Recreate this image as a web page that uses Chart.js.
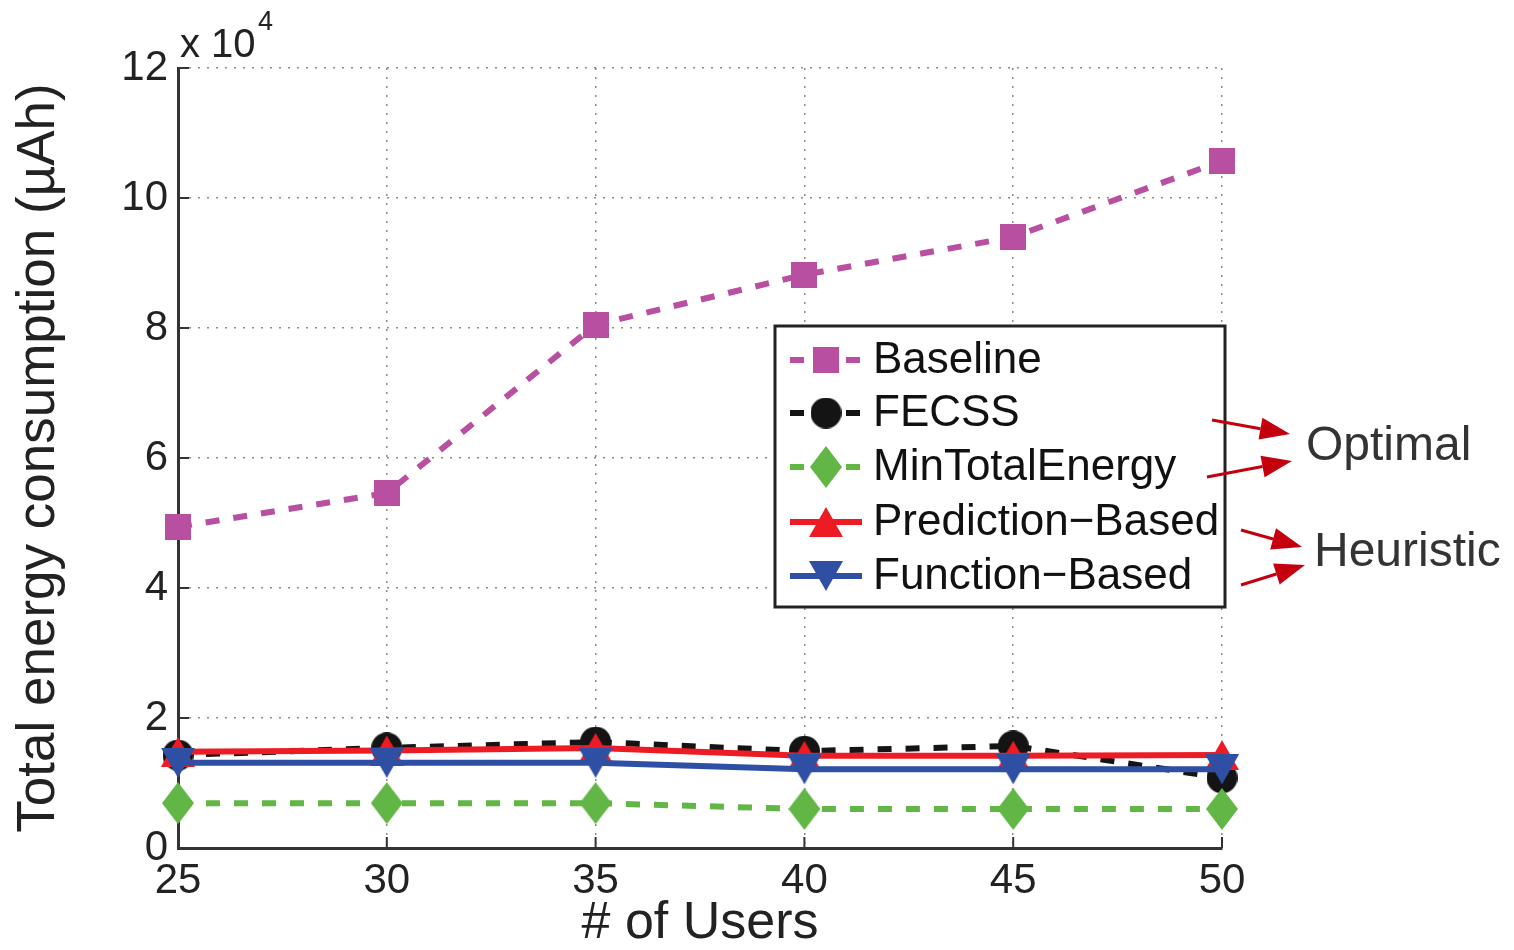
<!DOCTYPE html>
<html>
<head>
<meta charset="utf-8">
<script src="https://cdn.jsdelivr.net/npm/chart.js@4"></script>
<style>
html, body { margin: 0; padding: 0; background: #fff; }
#wrap { width: 1514px; height: 950px; }
</style>
</head>
<body>
<div id="wrap"><canvas id="energyChart"></canvas></div>
<script>
// values (µAh)
const users = [25, 30, 35, 40, 45, 50];
const baseline = [49400, 54600, 80500, 88200, 94000, 105700];
const fecss = [14300, 15400, 16300, 14900, 15700, 10800];
const minTotalEnergy = [6900, 6900, 6900, 6000, 6000, 6000];
const predictionBased = [14800, 15000, 15400, 14200, 14200, 14300];
const functionBased = [13100, 13100, 13100, 12100, 12100, 12100];
const seriesLabels = ['Baseline', 'FECSS', 'MinTotalEnergy', 'Prediction\u2212Based', 'Function\u2212Based'];
const groupLabels = ['Optimal', 'Heuristic'];

const FONT = "'Liberation Sans', Arial, Helvetica, sans-serif";

function makeMarker(shape, color, w, h) {
    const c = document.createElement('canvas');
    c.width = w;
    c.height = h;
    const g = c.getContext('2d');
    g.fillStyle = color;
    g.beginPath();
    if (shape === 'square') {
        g.rect(0, 0, w, h);
    } else if (shape === 'circle') {
        g.arc(w / 2, h / 2, w / 2, 0, Math.PI * 2);
    } else if (shape === 'diamond') {
        g.moveTo(w / 2, 0); g.lineTo(w, h / 2); g.lineTo(w / 2, h); g.lineTo(0, h / 2);
    } else if (shape === 'up') {
        g.moveTo(w / 2, 0); g.lineTo(w, h); g.lineTo(0, h);
    } else if (shape === 'down') {
        g.moveTo(0, 0); g.lineTo(w, 0); g.lineTo(w / 2, h);
    }
    g.closePath();
    g.fill();
    return c;
}

const series = [
    {label: seriesLabels[0], values: baseline, color: '#B94FA0', dash: [14, 14], marker: makeMarker('square', '#B94FA0', 26, 26)},
    {label: seriesLabels[1], values: fecss, color: '#141414', dash: [14, 14], marker: makeMarker('circle', '#141414', 31, 31)},
    {label: seriesLabels[2], values: minTotalEnergy, color: '#62B646', dash: [14, 14], marker: makeMarker('diamond', '#62B646', 32, 42)},
    {label: seriesLabels[3], values: predictionBased, color: '#ED1C24', dash: [], marker: makeMarker('up', '#ED1C24', 34, 30)},
    {label: seriesLabels[4], values: functionBased, color: '#2E4FA3', dash: [], marker: makeMarker('down', '#2E4FA3', 34, 30)}
];

const datasets = series.map((s, i) => ({
    label: s.label,
    data: users.map((u, k) => ({x: u, y: s.values[k]})),
    borderColor: s.color,
    backgroundColor: s.color,
    borderWidth: 6,
    borderDash: s.dash,
    pointStyle: s.marker,
    pointRadius: 12,
    pointHoverRadius: 12,
    tension: 0,
    clip: false,
    order: series.length - i
}));

// inward tick marks like the original axes
const innerTicks = {
    id: 'innerTicks',
    beforeDatasetsDraw(chart) {
        const {ctx, chartArea, scales} = chart;
        ctx.save();
        ctx.strokeStyle = '#333';
        ctx.lineWidth = 2;
        scales.y.ticks.forEach(t => {
            const y = scales.y.getPixelForValue(t.value);
            ctx.beginPath();
            ctx.moveTo(chartArea.left, y);
            ctx.lineTo(chartArea.left + 11, y);
            ctx.stroke();
        });
        scales.x.ticks.forEach(t => {
            const x = scales.x.getPixelForValue(t.value);
            ctx.beginPath();
            ctx.moveTo(x, chartArea.bottom);
            ctx.lineTo(x, chartArea.bottom - 11);
            ctx.stroke();
        });
        ctx.restore();
    }
};

function arrow(ctx, x1, y1, x2, y2) {
    const a = Math.atan2(y2 - y1, x2 - x1);
    const len = 30, half = 11;
    const bx = x2 - Math.cos(a) * len, by = y2 - Math.sin(a) * len;
    ctx.beginPath();
    ctx.moveTo(x1, y1);
    ctx.lineTo(bx, by);
    ctx.stroke();
    ctx.beginPath();
    ctx.moveTo(x2, y2);
    ctx.lineTo(bx - Math.sin(a) * half, by + Math.cos(a) * half);
    ctx.lineTo(bx + Math.sin(a) * half, by - Math.cos(a) * half);
    ctx.closePath();
    ctx.fill();
}

const overlay = {
    id: 'overlay',
    afterDraw(chart) {
        const {ctx, chartArea} = chart;
        ctx.save();
        // exponent label
        ctx.fillStyle = '#222';
        ctx.textBaseline = 'alphabetic';
        ctx.textAlign = 'left';
        ctx.font = '40px ' + FONT;
        ctx.fillText('x 10', chartArea.left + 2, 57);
        ctx.font = '27px ' + FONT;
        ctx.fillText('4', 258, 30);

        // legend box
        const box = {x: 775, y: 326, w: 450, h: 281};
        ctx.fillStyle = '#fff';
        ctx.fillRect(box.x, box.y, box.w, box.h);
        ctx.strokeStyle = '#222';
        ctx.lineWidth = 3;
        ctx.strokeRect(box.x, box.y, box.w, box.h);
        const rowY = [360, 413, 467, 522, 576];
        series.forEach((s, i) => {
            const y = rowY[i];
            ctx.strokeStyle = s.color;
            ctx.lineWidth = 6;
            ctx.setLineDash(s.dash);
            ctx.beginPath();
            ctx.moveTo(790, y);
            ctx.lineTo(862, y);
            ctx.stroke();
            ctx.setLineDash([]);
            ctx.drawImage(s.marker, 826 - s.marker.width / 2, y - s.marker.height / 2);
            ctx.fillStyle = '#111';
            ctx.font = '44px ' + FONT;
            ctx.textBaseline = 'middle';
            ctx.fillText(s.label, 873, y + 1);
        });

        // group annotations
        ctx.strokeStyle = '#C4000F';
        ctx.fillStyle = '#C4000F';
        ctx.lineWidth = 3;
        arrow(ctx, 1212, 420, 1290, 434);
        arrow(ctx, 1207, 477, 1292, 461);
        arrow(ctx, 1241, 530, 1302, 547);
        arrow(ctx, 1241, 585, 1305, 565);
        ctx.fillStyle = '#333';
        ctx.font = '48px ' + FONT;
        ctx.textBaseline = 'middle';
        ctx.fillText(groupLabels[0], 1306, 447);
        ctx.fillText(groupLabels[1], 1314, 553);
        ctx.restore();
    }
};

const ctx = document.getElementById('energyChart').getContext('2d');
const energyChart = new Chart(ctx, {
    type: 'line',
    data: {datasets: datasets},
    options: {
        responsive: true,
        maintainAspectRatio: false,
        animation: false,
        layout: {padding: {top: 68, right: 292, left: 0, bottom: 0}},
        plugins: {
            legend: {display: false},
            tooltip: {enabled: false}
        },
        scales: {
            x: {
                type: 'linear',
                min: 25,
                max: 50,
                afterFit: (scale) => { scale.height = 102; },
                ticks: {stepSize: 5, color: '#222', padding: 8, font: {size: 42, family: FONT}},
                grid: {color: '#8a8a8a', lineWidth: 1.5, drawTicks: false},
                border: {display: true, color: '#333', width: 3, dash: [2, 7]},
                title: {display: true, text: '# of Users', color: '#222', padding: {top: 0, bottom: 0}, font: {size: 52, family: FONT, lineHeight: 1}}
            },
            y: {
                min: 0,
                max: 120000,
                afterFit: (scale) => { scale.width = 178; },
                ticks: {stepSize: 20000, color: '#222', padding: 10, font: {size: 42, family: FONT}, callback: (v) => v / 10000},
                grid: {color: '#8a8a8a', lineWidth: 1.5, drawTicks: false},
                border: {display: true, color: '#333', width: 3, dash: [2, 7]},
                title: {display: true, text: 'Total energy consumption (\u00b5Ah)', color: '#222', padding: {top: 8, bottom: 0}, font: {size: 53, family: FONT}}
            }
        }
    },
    plugins: [innerTicks, overlay]
});
</script>
</body>
</html>
